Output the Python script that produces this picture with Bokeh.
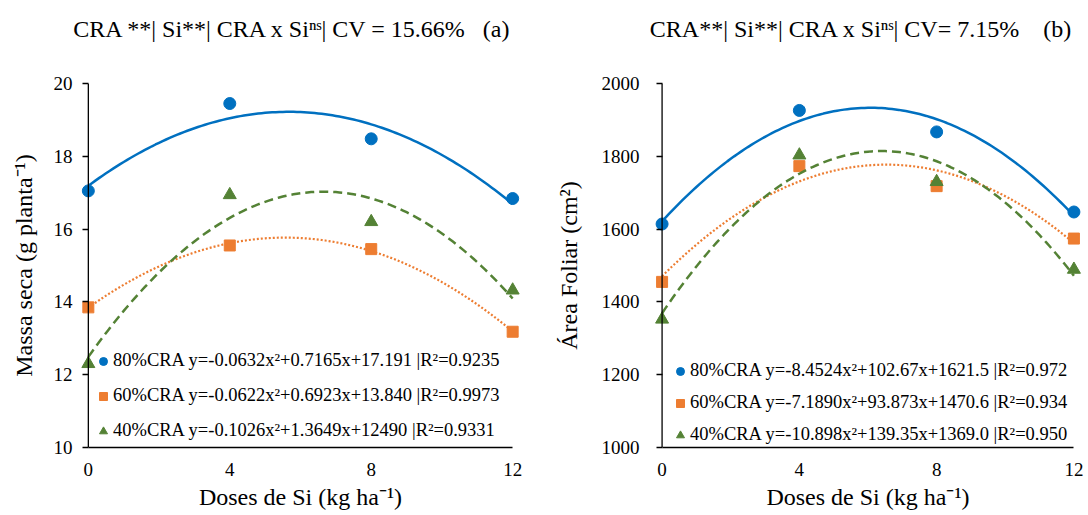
import numpy as np
from bokeh.plotting import figure
from bokeh.models import FixedTicker, Range1d, Legend, LegendItem, Title, Span
from bokeh.layouts import row
from bokeh.embed import file_html
from bokeh.resources import INLINE

# ---------------- data ----------------
doses = [0, 4, 8, 12]
x_ticks = [0, 4, 8, 12]
series = ["80%CRA", "60%CRA", "40%CRA"]

# (a) Massa seca
massa_80 = [17.05, 19.45, 18.48, 16.84]
massa_60 = [13.85, 15.55, 15.45, 13.18]
massa_40 = [12.30, 16.94, 16.20, 14.32]
# trendline coefficients (a, b, c) as printed: y = a x^2 + b x + c
massa_coef_80 = [-0.0632, 0.7165, 17.191]
massa_coef_60 = [-0.0622, 0.6923, 13.840]
massa_coef_40 = [-0.1026, 1.3649, 12.490]
massa_labels = [
    "80%CRA y=-0.0632x²+0.7165x+17.191 |R²=0.9235",
    "60%CRA y=-0.0622x²+0.6923x+13.840 |R²=0.9973",
    "40%CRA y=-0.1026x²+1.3649x+12490 |R²=0.9331",
]
massa_yticks = [10, 12, 14, 16, 18, 20]

# (b) Area foliar
area_80 = [1614, 1926, 1867, 1647]
area_60 = [1455, 1773, 1718, 1574]
area_40 = [1352, 1803, 1730, 1489]
area_coef_80 = [-8.4524, 102.67, 1621.5]
area_coef_60 = [-7.1890, 93.873, 1470.6]
area_coef_40 = [-10.898, 139.35, 1369.0]
area_labels = [
    "80%CRA y=-8.4524x²+102.67x+1621.5 |R²=0.972",
    "60%CRA y=-7.1890x²+93.873x+1470.6 |R²=0.934",
    "40%CRA y=-10.898x²+139.35x+1369.0 |R²=0.950",
]
area_yticks = [1000, 1200, 1400, 1600, 1800, 2000]

NB = "\u00a0"
title_a = "CRA **| Si**| CRA x Siⁿˢ| CV = 15.66%" + NB * 3 + "(a)"
title_b = "CRA**| Si**| CRA x Siⁿˢ| CV= 7.15%" + NB * 4 + "(b)"
xlabel = "Doses de Si (kg ha⁻¹)"
ylabel_a = "Massa seca (g planta⁻¹)"
ylabel_b = "Área Foliar (cm²)"

# ---------------- style ----------------
COLORS = ["#0070C0", "#ED7D31", "#548235"]
MARKERS = ["circle", "square", "triangle"]
SIZES = [12, 11, 13]
DASHES = ["solid", "2 2", "9 5"]
WIDTHS = [2.5, 2.2, 2.5]
FONT = "Liberation Serif"
PAD = 0.25


def make_panel(values, coefs, labels, yticks, title, ylabel, border,
               legend_loc, legend_spacing, tick_standoff, ylabel_standoff,
               title_offset):
    left, right, top, bottom = border
    p = figure(width=544, height=515,
               x_range=Range1d(x_ticks[0] - PAD, x_ticks[-1] + PAD),
               y_range=Range1d(yticks[0], yticks[-1]),
               output_backend="svg", toolbar_location=None,
               min_border_left=left, min_border_right=right,
               min_border_top=top, min_border_bottom=bottom)
    p.outline_line_color = None
    p.grid.visible = False
    p.background_fill_color = "white"
    p.border_fill_color = "white"

    # vertical axis line at x = 0
    p.add_layout(Span(location=x_ticks[0], dimension="height",
                      line_color="black", line_width=1.3))

    xs = np.linspace(x_ticks[0], x_ticks[-1], 121)
    items = []
    for i in range(3):
        a, b, c = coefs[i]
        p.line(xs, a * xs ** 2 + b * xs + c, line_color=COLORS[i],
               line_width=WIDTHS[i], line_dash=DASHES[i])
        r = p.scatter(doses, values[i], marker=MARKERS[i], size=SIZES[i],
                      fill_color=COLORS[i], line_color=COLORS[i])
        items.append(LegendItem(label=labels[i], renderers=[r]))

    leg = Legend(items=items, location=legend_loc, padding=0, margin=0,
                 spacing=legend_spacing, label_height=20, glyph_height=20,
                 glyph_width=20, label_standoff=0,
                 label_text_font=FONT, label_text_font_size="18.5px",
                 label_text_color="black",
                 background_fill_alpha=0, border_line_alpha=0)
    p.add_layout(leg)

    xa = p.xaxis[0]
    xa.ticker = FixedTicker(ticks=x_ticks)
    xa.bounds = (x_ticks[0], x_ticks[-1])
    xa.major_tick_line_color = None
    xa.major_tick_out = 0
    xa.major_tick_in = 0
    xa.minor_tick_line_color = None
    xa.axis_line_color = "black"
    xa.axis_line_width = 1.3
    xa.major_label_text_font = FONT
    xa.major_label_text_font_size = "19px"
    xa.major_label_text_color = "black"
    xa.major_label_standoff = 15
    xa.axis_label = xlabel
    xa.axis_label_text_font = FONT
    xa.axis_label_text_font_size = "24px"
    xa.axis_label_text_font_style = "normal"
    xa.axis_label_text_color = "black"
    xa.axis_label_standoff = 5

    ya = p.yaxis[0]
    ya.ticker = FixedTicker(ticks=yticks)
    ya.axis_line_color = None
    ya.major_tick_out = -3
    ya.major_tick_in = 9
    ya.major_tick_line_color = "black"
    ya.major_tick_line_width = 1.3
    ya.minor_tick_line_color = None
    ya.major_label_text_font = FONT
    ya.major_label_text_font_size = "19px"
    ya.major_label_text_color = "black"
    ya.major_label_standoff = tick_standoff
    ya.axis_label = ylabel
    ya.axis_label_text_font = FONT
    ya.axis_label_text_font_size = "24px"
    ya.axis_label_text_font_style = "normal"
    ya.axis_label_text_color = "black"
    ya.axis_label_standoff = ylabel_standoff

    # second (blank) line lifts the title away from the plot area
    p.title = Title(text=title + "\n" + NB, align="right",
                    text_font=FONT, text_font_size="24px",
                    text_line_height=1.15,
                    text_font_style="normal", text_color="black",
                    standoff=24, offset=title_offset)
    return p


p1 = make_panel([massa_80, massa_60, massa_40],
                [massa_coef_80, massa_coef_60, massa_coef_40],
                massa_labels, massa_yticks, title_a, ylabel_a,
                (79, 23, 81, 68), (14, 6), 14, 7, 14, 9)
p2 = make_panel([area_80, area_60, area_40],
                [area_coef_80, area_coef_60, area_coef_40],
                area_labels, area_yticks, title_b, ylabel_b,
                (109, 6, 83, 68), (17, 2), 11, 14, 17, 10)

layout = row(p1, p2)
open("out.html", "w").write(file_html(layout, INLINE))
